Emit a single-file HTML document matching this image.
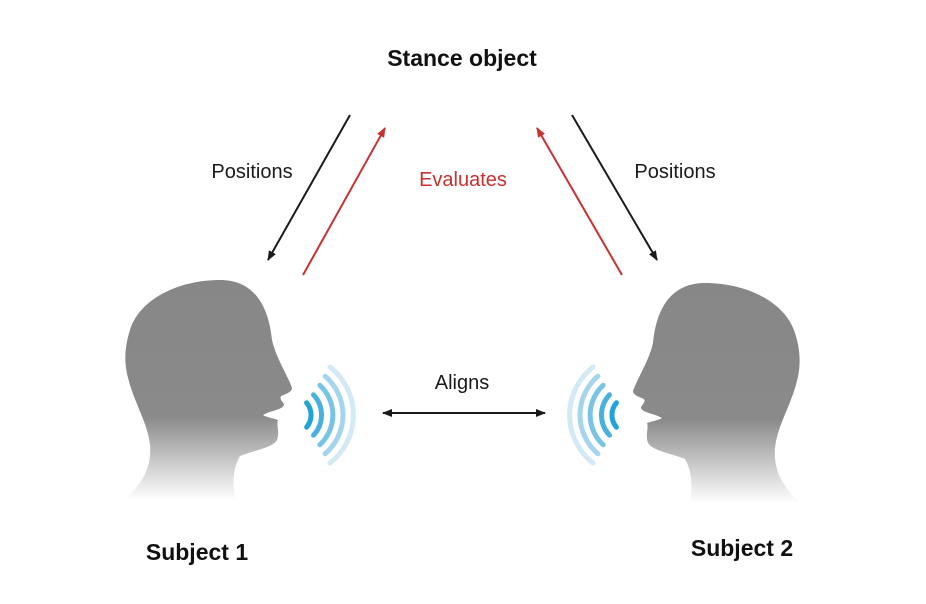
<!DOCTYPE html>
<html><head><meta charset="utf-8"><style>
html,body{margin:0;padding:0;background:#fff;}
svg{display:block;}
text{font-family:"Liberation Sans",sans-serif;}
</style></head><body>
<svg width="926" height="604" viewBox="0 0 926 604" xmlns="http://www.w3.org/2000/svg">
<defs>
<linearGradient id="hg" x1="0" y1="0" x2="0" y2="1" gradientUnits="objectBoundingBox">
<stop offset="0" stop-color="#878787"/><stop offset="0.62" stop-color="#8a8a8a"/><stop offset="1" stop-color="#ffffff"/>
</linearGradient>
<marker id="ak" markerWidth="10" markerHeight="10" refX="9" refY="5" orient="auto" markerUnits="userSpaceOnUse"><path d="M0,1 L10,5 L0,9 Z" fill="#1a1a1a"/></marker>
<marker id="ar" markerWidth="10" markerHeight="10" refX="9" refY="5" orient="auto" markerUnits="userSpaceOnUse"><path d="M0,1 L10,5 L0,9 Z" fill="#c8312f"/></marker>
<marker id="as" markerWidth="10" markerHeight="10" refX="1" refY="5" orient="auto" markerUnits="userSpaceOnUse"><path d="M10,1 L0,5 L10,9 Z" fill="#1a1a1a"/></marker>
<g id="head">
<path d="M220,280 C180,280 140,298 130,330 C122,355 126,372 130,385 C136,405 148,425 150,445 C152,470 140,485 125,500 L235,500 C233,485 232,470 240,456 C255,450 272,448 277,440 C280,432 276,425 278,420 C272,418 266,417 263,415 C272,410 282,410 284,405 C284,402 279,400 281,396 C286,394 292,392 292,388 C288,376 276,358 272,340 C268,300 250,280 220,280 Z" fill="url(#hg)"/>
</g>
<g id="waves" fill="none" stroke-linecap="round" stroke-width="5">
<path d="M14.6,-12.2 A19,19 0 0 1 14.6,12.2" stroke="#1fa3d8"/>
<path d="M21.5,-20.2 A29.5,29.5 0 0 1 21.5,20.2" stroke="#48b1de"/>
<path d="M27.9,-29.7 A40.5,40.5 0 0 1 27.9,29.7" stroke="#79c3e5"/>
<path d="M33.1,-38.8 A51,51 0 0 1 33.1,38.8" stroke="#a5d5ed"/>
<path d="M38,-48 A61,61 0 0 1 38,48" stroke="#d3eaf5"/>
</g>
</defs>
<use href="#head"/>
<use href="#head" transform="translate(925,3) scale(-1,1)"/>
<use href="#waves" transform="translate(292,415)"/>
<use href="#waves" transform="translate(631,415) scale(-1,1)"/>
<line x1="350" y1="115" x2="268" y2="260" stroke="#1a1a1a" stroke-width="2" marker-end="url(#ak)"/>
<line x1="303" y1="275" x2="385" y2="128" stroke="#c8312f" stroke-width="2" marker-end="url(#ar)"/>
<line x1="622" y1="275" x2="537" y2="128" stroke="#c8312f" stroke-width="2" marker-end="url(#ar)"/>
<line x1="572" y1="115" x2="657" y2="260" stroke="#1a1a1a" stroke-width="2" marker-end="url(#ak)"/>
<line x1="383" y1="413" x2="545" y2="413" stroke="#1a1a1a" stroke-width="2" marker-start="url(#as)" marker-end="url(#ak)"/>
<text x="462" y="66" font-size="23" font-weight="bold" text-anchor="middle" fill="#111">Stance object</text>
<text x="252" y="178" font-size="20" text-anchor="middle" fill="#1a1a1a">Positions</text>
<text x="675" y="178" font-size="20" text-anchor="middle" fill="#1a1a1a">Positions</text>
<text x="463" y="186" font-size="20" text-anchor="middle" fill="#c8312f">Evaluates</text>
<text x="462" y="389" font-size="20" text-anchor="middle" fill="#1a1a1a">Aligns</text>
<text x="197" y="560" font-size="23" font-weight="bold" text-anchor="middle" fill="#111">Subject 1</text>
<text x="742" y="556" font-size="23" font-weight="bold" text-anchor="middle" fill="#111">Subject 2</text>
</svg>
</body></html>
